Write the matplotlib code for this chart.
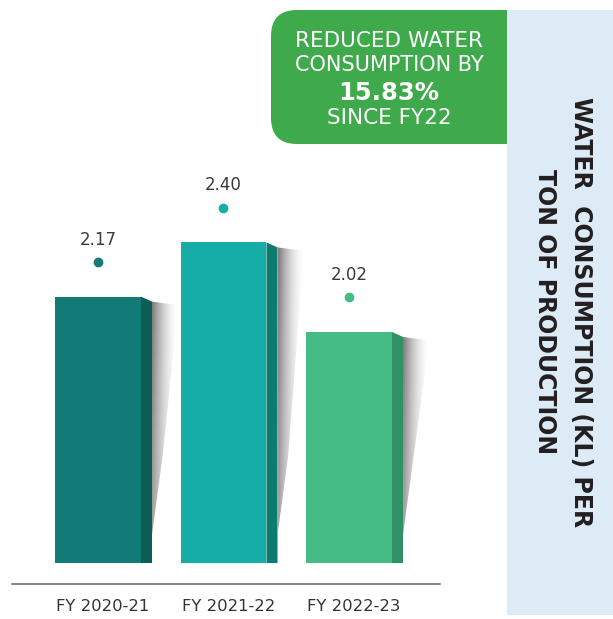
import numpy as np
import matplotlib
matplotlib.use('Agg')
import matplotlib.pyplot as plt
from matplotlib.patches import Polygon, FancyBboxPatch, Rectangle

# datos del grafico
periodos = ['FY 2020-21', 'FY 2021-22', 'FY 2022-23']
consumo = [2.17, 2.40, 2.02]
etiquetas = ['2.17', '2.40', '2.02']

# estilos
color_frente = ['#127B77', '#15ADA5', '#45BC85']
color_lado = ['#0D5D57', '#0E7B73', '#2F9165']

ancho = 0.685      # ancho de la cara frontal
prof = 0.088       # profundidad de la cara lateral
caida = 0.021      # inclinacion del borde superior del lateral
base = 1.04        # valor donde empiezan las barras
sep_punto = 0.148  # distancia entre la barra y el punto

fig = plt.figure(figsize=(6.13, 6.19), dpi=100)

# fondo en pixeles para recuadros y textos
bg = fig.add_axes([0, 0, 1, 1], zorder=0)
bg.set_xlim(0, 613)
bg.set_ylim(619, 0)
bg.axis('off')

bg.add_patch(FancyBboxPatch((271, 10), 260, 134, boxstyle='round,pad=0,rounding_size=26',
                            facecolor='#3FAA4C', edgecolor='none'))
bg.add_patch(Rectangle((507, 10), 106, 605, facecolor='#DDEBF6', edgecolor='none'))

bg.text(389, 41, 'REDUCED WATER', color='white', fontsize=15.5, ha='center', va='center')
bg.text(389, 65, 'CONSUMPTION BY', color='white', fontsize=15, ha='center', va='center')
bg.text(389, 93, '15.83%', color='white', fontsize=17.5, fontweight='bold', ha='center', va='center')
bg.text(389, 118, 'SINCE FY22', color='white', fontsize=15.5, ha='center', va='center')

bg.text(581, 312, 'WATER  CONSUMPTION (KL) PER', color='#231F20', fontsize=17,
        fontweight='bold', rotation=270, ha='center', va='center')
bg.text(545, 312, 'TON OF PRODUCTION', color='#231F20', fontsize=17,
        fontweight='bold', rotation=270, ha='center', va='center')

# grafico de barras
ax = fig.add_axes([12/613, 35/619, 428/613, 574/619], zorder=1)
ax.patch.set_visible(False)

x = np.arange(len(consumo))

# degradado para la sombra
n = 80
fx = np.linspace(0, 1, n)[None, :]
fy = np.linspace(0, 1, n)[:, None]
grad = np.zeros((n, n, 4))
grad[..., :3] = 0.3
grad[..., 3] = 0.75 * (1 - fx) ** 1.8 * (1 - 0.3 * fy)

for i, v in enumerate(consumo):
    der = x[i] + ancho / 2
    ax.bar(x[i], v - base, bottom=base, width=ancho, color=color_frente[i], zorder=3)
    lado = Polygon([(der, base), (der, v), (der + prof, v - caida), (der + prof, base)],
                   closed=True, facecolor=color_lado[i], edgecolor='none', zorder=3)
    ax.add_patch(lado)

    # sombra a la derecha
    xs = der + prof
    w = 0.21
    y_fin = base + 0.12
    sombra = Polygon([(xs, v - caida), (xs + w, v - caida - 0.015),
                      (xs + w * 0.4, base + 0.45), (xs, y_fin)],
                     closed=True, facecolor='none', edgecolor='none')
    ax.add_patch(sombra)
    im = ax.imshow(grad, extent=(xs, xs + w, y_fin, v - caida), origin='upper',
                   aspect='auto', zorder=2, interpolation='bilinear')
    im.set_clip_path(sombra)

    # punto y etiqueta
    ax.plot(x[i], v + sep_punto, 'o', color=color_frente[i], markersize=6, zorder=4)
    ax.annotate(etiquetas[i], (x[i], v + sep_punto), xytext=(0, 16), textcoords='offset points',
                ha='center', va='center', fontsize=12, color='#3A3A3A')

ax.set_xlim(-0.685, 2.725)
ax.set_ylim(0.951, 3.386)
ax.set_aspect('auto')

ax.set_xticks(x + 0.04)
ax.set_xticklabels(periodos, fontsize=11.8, color='#333333')
ax.tick_params(axis='x', length=0, pad=11)
ax.set_yticks([])
for lado_eje in ['top', 'right', 'left']:
    ax.spines[lado_eje].set_visible(False)
ax.spines['bottom'].set_color('#666666')
ax.spines['bottom'].set_linewidth(1.1)

plt.savefig('out.png', dpi=100)
